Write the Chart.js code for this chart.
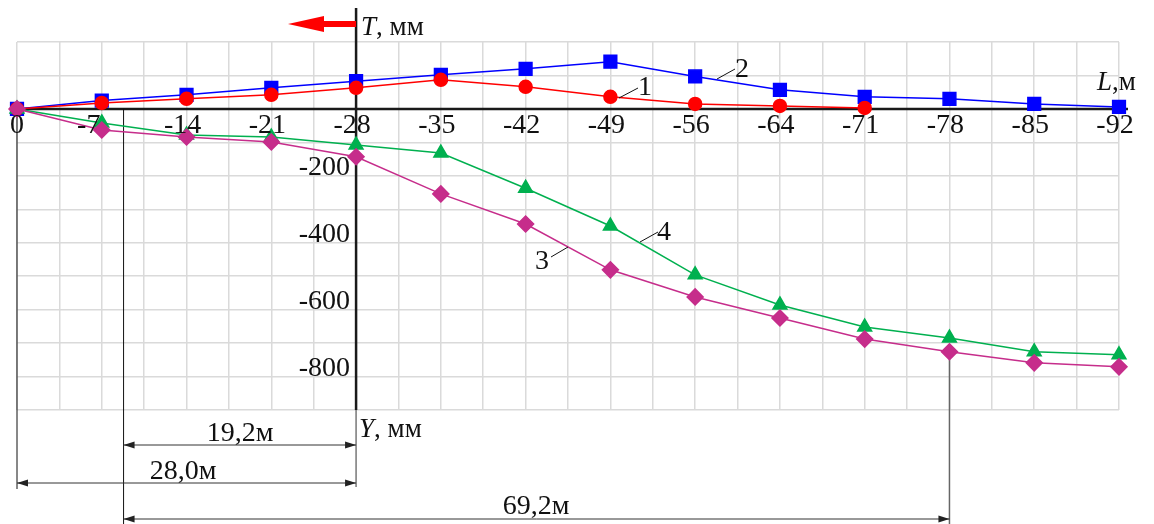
<!DOCTYPE html>
<html>
<head>
<meta charset="utf-8">
<script src="https://cdn.jsdelivr.net/npm/chart.js@4.4.1/dist/chart.umd.min.js"></script>
<style>
  html, body { margin: 0; padding: 0; background: #fff; }
</style>
</head>
<body>
<canvas id="settlementChart" width="1154" height="524"></canvas>
<script>
// distances along the line, м
let distanceLabels = ['0', '-7', '-14', '-21', '-28', '-35', '-42', '-49', '-56', '-64', '-71', '-78', '-85', '-92'];
// curve 1 (red) and 2 (blue): T, мм
let curve1 = [0, 18, 30, 42, 63, 87, 66, 36, 15, 9, 3];
let curve2 = [0, 25, 42, 63, 83, 102, 120, 141, 97, 57, 36, 30, 15, 6];
// curve 3 (magenta) and 4 (green): Y, мм
let curve3 = [0, -63, -84, -99, -143, -254, -344, -481, -562, -625, -688, -726, -759, -771];
let curve4 = [0, -42, -78, -84, -108, -132, -237, -350, -496, -586, -652, -685, -726, -735];
let yTickLabels = ['-200', '-400', '-600', '-800'];

const serif = '"Liberation Serif", "Times New Roman", serif';
const toPoints = arr => arr.map((v, i) => ({ x: i, y: v }));

function line(ctx, x1, y1, x2, y2) {
    ctx.beginPath();
    ctx.moveTo(x1, y1);
    ctx.lineTo(x2, y2);
    ctx.stroke();
}

function arrowHead(ctx, x, y, dir) {
    ctx.beginPath();
    ctx.moveTo(x, y);
    ctx.lineTo(x - dir * 11, y - 3.5);
    ctx.lineTo(x - dir * 11, y + 3.5);
    ctx.closePath();
    ctx.fill();
}

function dimension(ctx, x1, x2, y) {
    line(ctx, x1, y, x2, y);
    arrowHead(ctx, x1, y, -1);
    arrowHead(ctx, x2, y, 1);
}

// italic letter + normal rest
function mixedLabel(ctx, italic, rest, x, y) {
    ctx.textAlign = 'left';
    ctx.font = 'italic 27px ' + serif;
    ctx.fillText(italic, x, y);
    let w = ctx.measureText(italic).width;
    ctx.font = '27px ' + serif;
    ctx.fillText(rest, x + w, y);
}

let axesPlugin = {
    id: 'axesPlugin',
    beforeDatasetsDraw(chart) {
        const { ctx, chartArea, scales: { x, y } } = chart;
        const y0 = y.getPixelForValue(0);
        const xv = x.getPixelForValue(4);
        ctx.save();
        ctx.strokeStyle = '#1a1a1a';
        ctx.lineWidth = 2.5;
        line(ctx, chartArea.left, y0, chartArea.right + 9, y0);
        line(ctx, xv, 8, xv, chartArea.bottom);
        ctx.strokeStyle = '#777';
        ctx.lineWidth = 1.5;
        line(ctx, xv, chartArea.bottom, xv, 487);
        ctx.strokeStyle = '#111';
        ctx.lineWidth = 1;
        line(ctx, x.getPixelForValue(0), y0, x.getPixelForValue(0), 489);
        line(ctx, x.getPixelForValue(8.8 / 7), y0, x.getPixelForValue(8.8 / 7), 524);
        ctx.strokeStyle = '#666';
        ctx.lineWidth = 1.5;
        line(ctx, x.getPixelForValue(11), y.getPixelForValue(curve3[11]), x.getPixelForValue(11), 524);
        ctx.restore();
    },
    afterDraw(chart) {
        const { ctx, chartArea, scales: { x, y } } = chart;
        const y0 = y.getPixelForValue(0);
        const xv = x.getPixelForValue(4);
        ctx.save();
        ctx.fillStyle = '#111';
        ctx.font = '28px ' + serif;
        ctx.textBaseline = 'alphabetic';

        // x labels under the axis
        ctx.textAlign = 'center';
        distanceLabels.forEach((lab, i) => {
            let shift = i === 0 ? 0 : (i === 1 ? -13 : -4);
            ctx.fillText(lab, x.getPixelForValue(i) + shift, y0 + 24);
        });

        // y labels next to the vertical axis
        ctx.textAlign = 'right';
        yTickLabels.forEach(lab => {
            ctx.fillText(lab, xv - 6, y.getPixelForValue(Number(lab)) - 1);
        });

        // axis titles
        mixedLabel(ctx, 'T', ', мм', xv + 5, 35);
        mixedLabel(ctx, 'L', ',м', 1097, 90);
        mixedLabel(ctx, 'Y', ', мм', xv + 3, 437);

        // red direction arrow
        ctx.fillStyle = '#ff0000';
        ctx.fillRect(322, 21, xv - 322, 6);
        ctx.beginPath();
        ctx.moveTo(288, 24);
        ctx.lineTo(324, 16);
        ctx.lineTo(324, 32);
        ctx.closePath();
        ctx.fill();

        // curve numbers with leaders
        ctx.fillStyle = '#111';
        ctx.strokeStyle = '#111';
        ctx.lineWidth = 1;
        ctx.font = '28px ' + serif;
        ctx.textAlign = 'left';
        line(ctx, 619, 98, 638, 88);
        ctx.fillText('1', 638, 95);
        line(ctx, 717, 79, 735, 69);
        ctx.fillText('2', 735, 77);
        line(ctx, 568, 247, 551, 257);
        ctx.fillText('3', 535, 269);
        line(ctx, 640, 242, 658, 232);
        ctx.fillText('4', 657, 240);

        // dimension lines
        ctx.fillStyle = '#222';
        ctx.strokeStyle = '#333';
        const xs = x.getPixelForValue(8.8 / 7);
        const x0 = x.getPixelForValue(0);
        const x78 = x.getPixelForValue(11);
        dimension(ctx, xs, xv, 445);
        dimension(ctx, x0, xv, 483);
        dimension(ctx, xs, x78, 519);
        ctx.fillStyle = '#111';
        ctx.textAlign = 'center';
        ctx.font = '28px ' + serif;
        ctx.fillText('19,2м', 240, 441);
        ctx.fillText('28,0м', 183, 479);
        ctx.fillText('69,2м', 536, 514);
        ctx.restore();
    }
};

let ctxSettlement = document.getElementById('settlementChart').getContext('2d');

let settlementChart = new Chart(ctxSettlement, {
    type: 'line',
    data: {
        datasets: [{
            label: '3',
            data: toPoints(curve3),
            borderColor: '#c62d8b',
            backgroundColor: '#c62d8b',
            pointStyle: 'rectRot',
            pointRadius: 8,
            borderWidth: 1.5,
            clip: false
        }, {
            label: '4',
            data: toPoints(curve4),
            borderColor: '#00b04f',
            backgroundColor: '#00b04f',
            pointStyle: 'triangle',
            pointRadius: 8,
            borderWidth: 1.5,
            clip: false
        }, {
            label: '1',
            data: toPoints(curve1),
            borderColor: '#ff0000',
            backgroundColor: '#ff0000',
            pointStyle: 'circle',
            pointRadius: 6.5,
            borderWidth: 1.5,
            clip: false
        }, {
            label: '2',
            data: toPoints(curve2),
            borderColor: '#0000ff',
            backgroundColor: '#0000ff',
            pointStyle: 'rect',
            pointRadius: 9,
            borderWidth: 1.5,
            clip: false
        }]
    },
    options: {
        responsive: false,
        animation: false,
        layout: {
            padding: { left: 17, right: 35, top: 42, bottom: 114 }
        },
        plugins: {
            legend: { display: false },
            tooltip: { enabled: false }
        },
        elements: {
            line: { tension: 0 },
            point: { borderWidth: 1 }
        },
        scales: {
            x: {
                type: 'linear',
                min: 0,
                max: 13,
                ticks: { display: false, stepSize: 0.5 },
                grid: { color: '#dadada', lineWidth: 1.5, drawTicks: false },
                border: { display: false }
            },
            y: {
                type: 'linear',
                min: -900,
                max: 200,
                ticks: { display: false, stepSize: 100 },
                grid: { color: '#dadada', lineWidth: 1.5, drawTicks: false },
                border: { display: false }
            }
        }
    },
    plugins: [axesPlugin]
});
</script>
</body>
</html>
